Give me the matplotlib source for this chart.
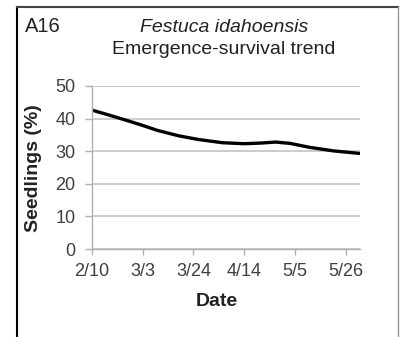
import matplotlib
matplotlib.use("Agg")
import matplotlib.pyplot as plt
from matplotlib.lines import Line2D

plt.rcParams['font.family'] = ['Liberation Sans', 'DejaVu Sans']

# days since 2/10
days = [0, 7, 15, 21, 27, 36, 44, 54, 63, 70, 76, 82, 90, 100, 111]
seedlings = [42.6, 41.1, 39.3, 37.9, 36.4, 34.7, 33.6, 32.6, 32.3, 32.5, 32.8, 32.4, 31.2, 30.1, 29.3]
tick_days = [0, 21, 42, 63, 84, 105]
tick_labels = ['2/10', '3/3', '3/24', '4/14', '5/5', '5/26']
y_ticks = [0, 10, 20, 30, 40, 50]

W, H = 401, 337
fig = plt.figure(figsize=(W/100, H/100), dpi=100)
ax = fig.add_axes([92/W, 1-249/H, (360-92)/W, (249-86)/H])

ax.plot(days, seedlings, color='black', lw=2.4, solid_joinstyle='round', solid_capstyle='butt')
ax.set_xlim(0, 111)
ax.set_ylim(0, 50)
ax.set_yticks(y_ticks)
ax.set_xticks(tick_days)
ax.set_xticklabels(tick_labels)
ax.grid(axis='y', color='#c4c4c4', lw=1.2)
ax.set_axisbelow(True)
for s in ['top', 'right']:
    ax.spines[s].set_visible(False)
for s in ['left', 'bottom']:
    ax.spines[s].set_color('#b0b0b0')
    ax.spines[s].set_linewidth(1.0)
ax.tick_params(axis='both', colors='#b0b0b0', labelcolor='#404040', labelsize=13, length=4, width=1)
ax.tick_params(axis='y', pad=7, length=5)
ax.tick_params(axis='x', pad=6)

fig.text(33/W, 1-168/H, 'Seedlings (%)', rotation=90, ha='center', va='center',
         fontsize=14, fontweight='bold', color='#222222')
fig.text(217/W, 1-301/H, 'Date', ha='center', va='center', fontsize=14,
         fontweight='bold', color='#222222')
fig.text(25/W, 1-27/H, 'A16', ha='left', va='center', fontsize=14.5, color='#222222')
fig.text(224/W, 1-27/H, 'Festuca idahoensis', ha='center', va='center', fontsize=14,
         style='italic', color='#222222')
fig.text(224/W, 1-49/H, 'Emergence-survival trend', ha='center', va='center', fontsize=14,
         color='#222222')

# frame
fig.add_artist(Line2D([17/W, 17/W], [1-7/H, 0], color='black', lw=1.5, transform=fig.transFigure))
fig.add_artist(Line2D([17/W, 398/W], [1-7/H, 1-7/H], color='#444444', lw=1.5, transform=fig.transFigure))
fig.add_artist(Line2D([398/W, 398/W], [1-7/H, 0], color='#999999', lw=1.0, transform=fig.transFigure))

fig.savefig('out.png', dpi=100)
